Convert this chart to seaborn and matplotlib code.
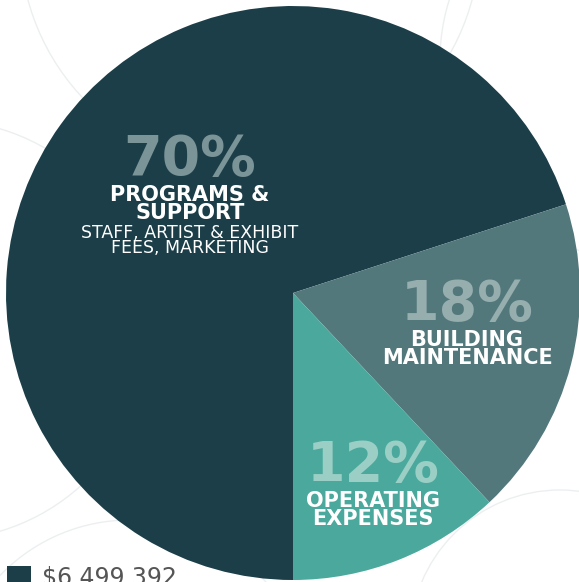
import matplotlib.pyplot as plt
import seaborn as sns
from matplotlib.patches import Circle, Rectangle

# budget split
shares = [70, 18, 12]
pct_labels = ["70%", "18%", "12%"]
titles = ["PROGRAMS &\nSUPPORT", "BUILDING\nMAINTENANCE", "OPERATING\nEXPENSES"]
subtitles = ["STAFF, ARTIST & EXHIBIT\nFEES, MARKETING", "", ""]
total_label = "$6,499,392"

colors = ["#1b3e48", "#52787c", "#4aa99c"]
pct_colors = ["#7b9497", "#97aeaf", "#9bcfc6"]

sns.set_theme(style="white")
plt.rcParams['font.family'] = ['DejaVu Sans']

W, H = 579, 582
fig = plt.figure(figsize=(W / 100, H / 100), dpi=100)
ax = fig.add_axes([0, 0, 1, 1])


def py(y):
    # pixel row -> data y
    return H - y


# faint decorative rings in the background
for cx, cy, r in [(-60, 330, 210), (250, -60, 230), (640, 60, 200), (130, 700, 180), (560, 640, 150)]:
    ax.add_patch(Circle((cx, py(cy)), r, fill=False, ec="#eceff0", lw=1, zorder=0))

cx, cy, R = 293, 293, 287
ax.pie(shares, colors=colors, startangle=-90, counterclock=False,
       center=(cx, py(cy)), radius=R, frame=True,
       wedgeprops=dict(linewidth=0))
ax.set_xlim(0, W)
ax.set_ylim(0, H)
ax.set_aspect('equal')
ax.axis('off')

# label x centre and last-line baselines (pixels): percent, title, subtitle
layout = [(190, 175, 219, 253), (467, 320, 364, None), (373, 481, 525, None)]
for i, (x, b_pct, b_title, b_sub) in enumerate(layout):
    ax.text(x, py(b_pct), pct_labels[i], ha='center', va='baseline', fontsize=40,
            fontweight='bold', color=pct_colors[i])
    ax.text(x, py(b_title), titles[i], ha='center', va='baseline', fontsize=15,
            fontweight='bold', color='white', linespacing=0.85, multialignment='center')
    if b_sub is not None:
        ax.text(x, py(b_sub), subtitles[i], ha='center', va='baseline', fontsize=12.5,
                color='white', linespacing=0.78, multialignment='center')

# legend swatch + total
ax.add_patch(Rectangle((7, py(582)), 24, 16, color=colors[0], lw=0))
ax.text(42, py(566), total_label, ha='left', va='top', fontsize=17, color='#555555')

fig.savefig("out.png", dpi=100)
